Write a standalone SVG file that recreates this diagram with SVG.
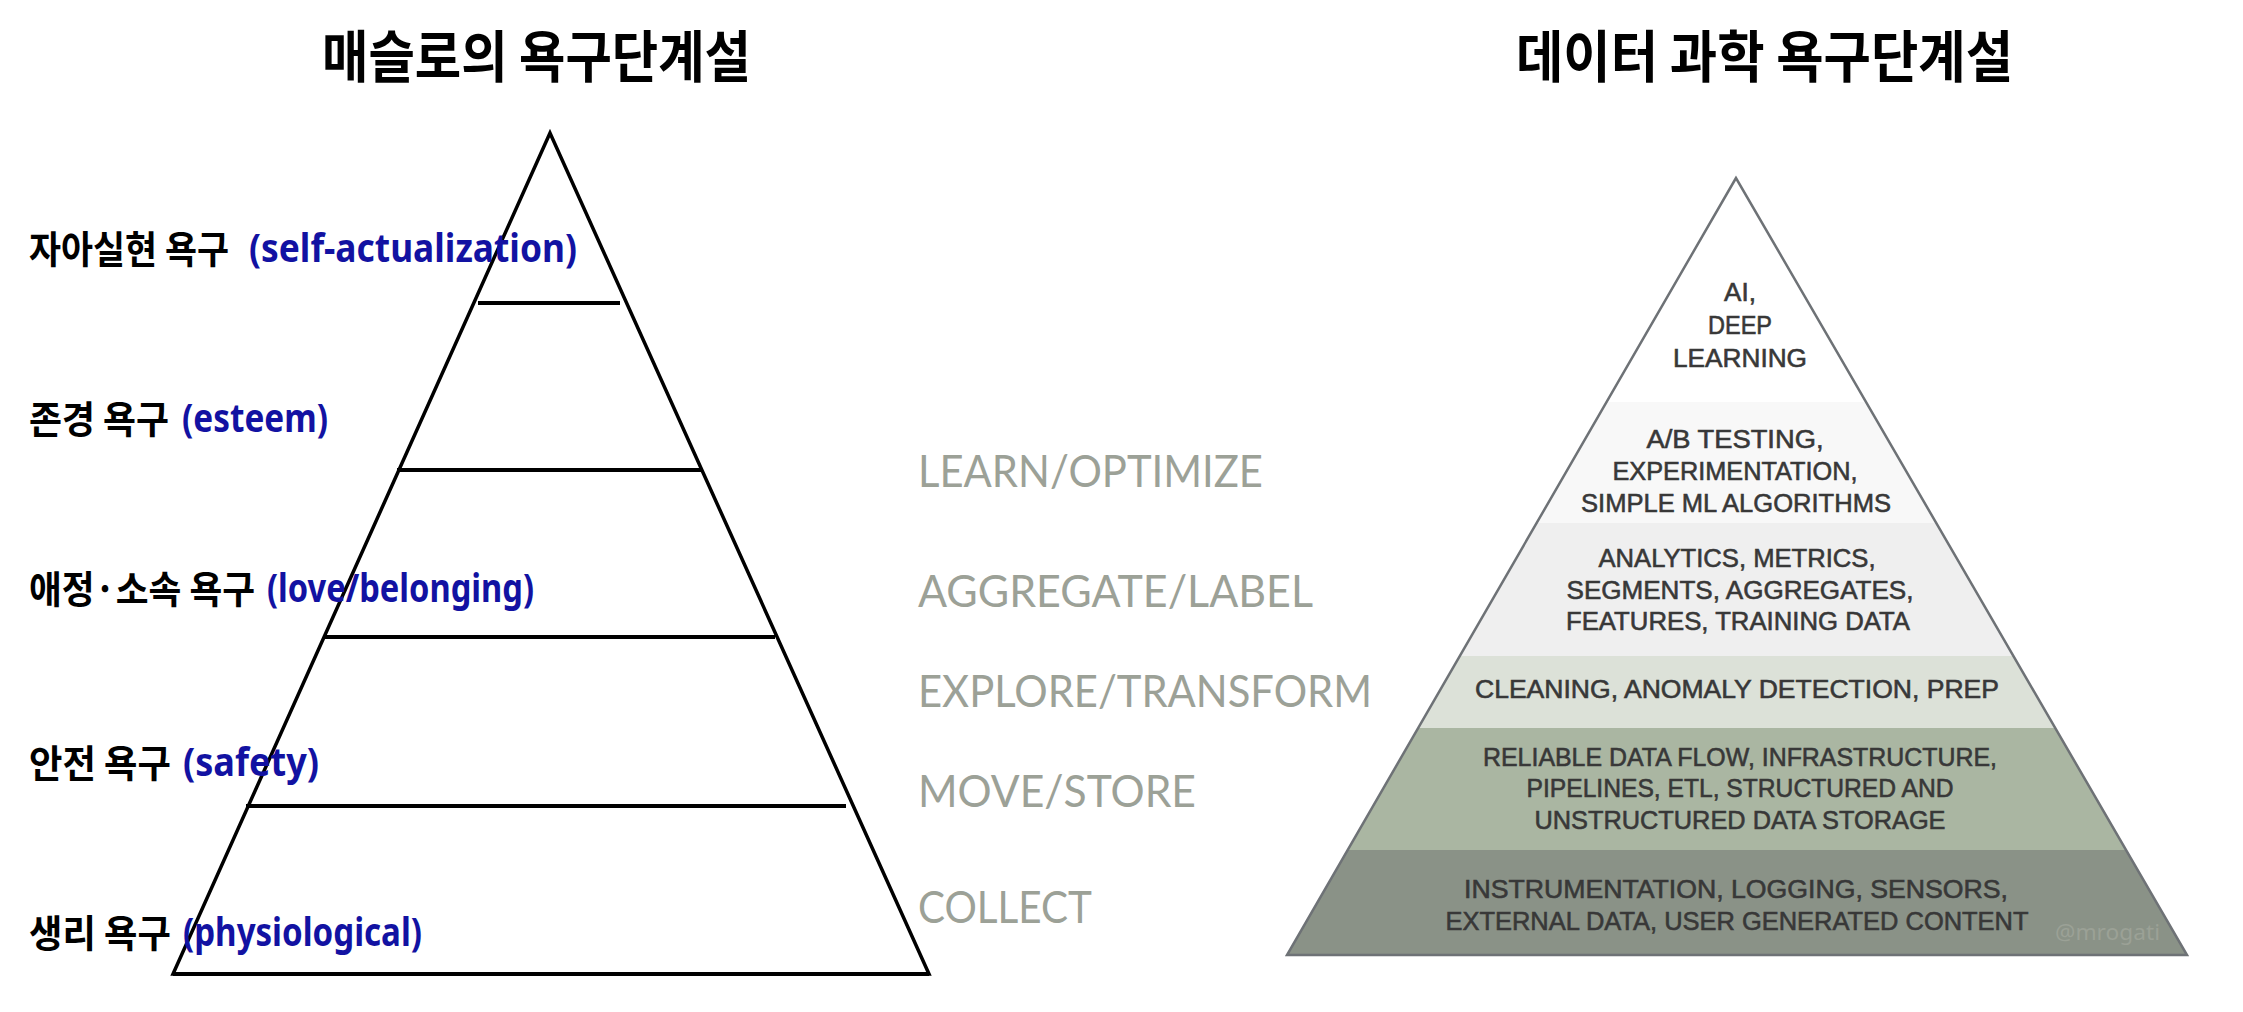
<svg xmlns="http://www.w3.org/2000/svg" width="2243" height="1012" viewBox="0 0 2243 1012">
<style>
.title{font-family:"Noto Sans CJK KR","Noto Sans",sans-serif;font-weight:700;font-size:56px;fill:#000}
.ko{font-family:"Noto Sans CJK KR","Noto Sans",sans-serif;font-weight:700;font-size:38px;fill:#000}
.en{font-family:"Noto Sans","Noto Sans CJK KR",sans-serif;font-weight:700;font-size:39px;fill:#1212a2}
.stage{font-family:Lato,"Noto Sans",sans-serif;font-weight:400;font-size:45px;fill:#9ca197}
.pt{font-family:"Liberation Sans",Arial,sans-serif;font-weight:400;font-size:26px;fill:#383838;stroke:#383838;stroke-width:0.6;text-anchor:middle}
.ln{stroke:#000;stroke-width:4;fill:none}
</style>
<defs>
<clipPath id="tri"><polygon points="1736,178 1287,955 2187,955"/></clipPath>
</defs>
<rect width="2243" height="1012" fill="#fff"/>

<g id="title-left"><text class="title" x="322" y="77" textLength="429" lengthAdjust="spacingAndGlyphs">매슬로의 욕구단계설</text></g>
<g id="title-right"><text class="title" x="1516" y="77" textLength="497" lengthAdjust="spacingAndGlyphs">데이터 과학 욕구단계설</text></g>

<g id="maslow-pyramid">
<polygon points="550,133 173,974 929,974" fill="none" stroke="#000" stroke-width="3.5" stroke-linejoin="miter"/>
<line class="ln" x1="478" y1="303" x2="620" y2="303"/>
<line class="ln" x1="397" y1="470" x2="701" y2="470"/>
<line class="ln" x1="324" y1="637" x2="775" y2="637"/>
<line class="ln" x1="246" y1="806" x2="846" y2="806"/>
<line class="ln" x1="173" y1="974" x2="929" y2="974"/>
</g>

<g id="label-self-actualization">
<text class="ko" x="29" y="263" textLength="200" lengthAdjust="spacingAndGlyphs">자아실현 욕구</text>
<text class="en" x="249" y="262" textLength="328" lengthAdjust="spacingAndGlyphs">(self-actualization)</text>
</g>
<g id="label-esteem">
<text class="ko" x="29" y="433" textLength="140" lengthAdjust="spacingAndGlyphs">존경 욕구</text>
<text class="en" x="182" y="432" textLength="146" lengthAdjust="spacingAndGlyphs">(esteem)</text>
</g>
<g id="label-love">
<text class="ko" x="29" y="603" textLength="226" lengthAdjust="spacingAndGlyphs">애정·소속 욕구</text>
<text class="en" x="267" y="602" textLength="267" lengthAdjust="spacingAndGlyphs">(love/belonging)</text>
</g>
<g id="label-safety">
<text class="ko" x="29" y="777" textLength="142" lengthAdjust="spacingAndGlyphs">안전 욕구</text>
<text class="en" x="183" y="776" textLength="136" lengthAdjust="spacingAndGlyphs">(safety)</text>
</g>
<g id="label-physiological">
<text class="ko" x="29" y="947" textLength="142" lengthAdjust="spacingAndGlyphs">생리 욕구</text>
<text class="en" x="183" y="946" textLength="239" lengthAdjust="spacingAndGlyphs">(physiological)</text>
</g>

<g id="stage-labels">
<text class="stage" x="918" y="487" textLength="345" lengthAdjust="spacingAndGlyphs">LEARN/OPTIMIZE</text>
<text class="stage" x="918" y="607" textLength="395" lengthAdjust="spacingAndGlyphs">AGGREGATE/LABEL</text>
<text class="stage" x="918" y="707" textLength="454" lengthAdjust="spacingAndGlyphs">EXPLORE/TRANSFORM</text>
<text class="stage" x="918" y="807" textLength="278" lengthAdjust="spacingAndGlyphs">MOVE/STORE</text>
<text class="stage" x="918" y="923" textLength="174" lengthAdjust="spacingAndGlyphs">COLLECT</text>
</g>

<g id="data-pyramid">
<g clip-path="url(#tri)">
<rect x="1280" y="170" width="920" height="232" fill="#ffffff"/>
<rect x="1280" y="402" width="920" height="121" fill="#f8f8f8"/>
<rect x="1280" y="523" width="920" height="133" fill="#efefef"/>
<rect x="1280" y="656" width="920" height="72" fill="#dce1d8"/>
<rect x="1280" y="728" width="920" height="122" fill="#aab6a2"/>
<rect x="1280" y="850" width="920" height="110" fill="#8a9287"/>
</g>
<polygon points="1736,178 1287,955 2187,955" fill="none" stroke="#6e7276" stroke-width="2.5" stroke-linejoin="miter"/>
</g>

<g id="tier-ai">
<text class="pt" x="1740" y="301">AI,</text>
<text class="pt" x="1740" y="334" textLength="64" lengthAdjust="spacingAndGlyphs">DEEP</text>
<text class="pt" x="1740" y="367" textLength="134" lengthAdjust="spacingAndGlyphs">LEARNING</text>
</g>
<g id="tier-learn">
<text class="pt" x="1735" y="448" textLength="177" lengthAdjust="spacingAndGlyphs">A/B TESTING,</text>
<text class="pt" x="1735" y="480" textLength="245" lengthAdjust="spacingAndGlyphs">EXPERIMENTATION,</text>
<text class="pt" x="1736" y="512" textLength="310" lengthAdjust="spacingAndGlyphs">SIMPLE ML ALGORITHMS</text>
</g>
<g id="tier-aggregate">
<text class="pt" x="1737" y="567" textLength="277" lengthAdjust="spacingAndGlyphs">ANALYTICS, METRICS,</text>
<text class="pt" x="1740" y="599" textLength="347" lengthAdjust="spacingAndGlyphs">SEGMENTS, AGGREGATES,</text>
<text class="pt" x="1738" y="630" textLength="344" lengthAdjust="spacingAndGlyphs">FEATURES, TRAINING DATA</text>
</g>
<g id="tier-explore">
<text class="pt" x="1737" y="698" textLength="524" lengthAdjust="spacingAndGlyphs">CLEANING, ANOMALY DETECTION, PREP</text>
</g>
<g id="tier-move">
<text class="pt" x="1740" y="766" textLength="514" lengthAdjust="spacingAndGlyphs">RELIABLE DATA FLOW, INFRASTRUCTURE,</text>
<text class="pt" x="1740" y="797" textLength="427" lengthAdjust="spacingAndGlyphs">PIPELINES, ETL, STRUCTURED AND</text>
<text class="pt" x="1740" y="829" textLength="411" lengthAdjust="spacingAndGlyphs">UNSTRUCTURED DATA STORAGE</text>
</g>
<g id="tier-collect">
<text class="pt" x="1736" y="898" textLength="544" lengthAdjust="spacingAndGlyphs">INSTRUMENTATION, LOGGING, SENSORS,</text>
<text class="pt" x="1737" y="930" textLength="583" lengthAdjust="spacingAndGlyphs">EXTERNAL DATA, USER GENERATED CONTENT</text>
<text x="2055" y="940" font-family="'Noto Sans',sans-serif" font-size="22" fill="#9ba196" textLength="105" lengthAdjust="spacingAndGlyphs">@mrogati</text>
</g>

<g id="connectors"/>
</svg>
